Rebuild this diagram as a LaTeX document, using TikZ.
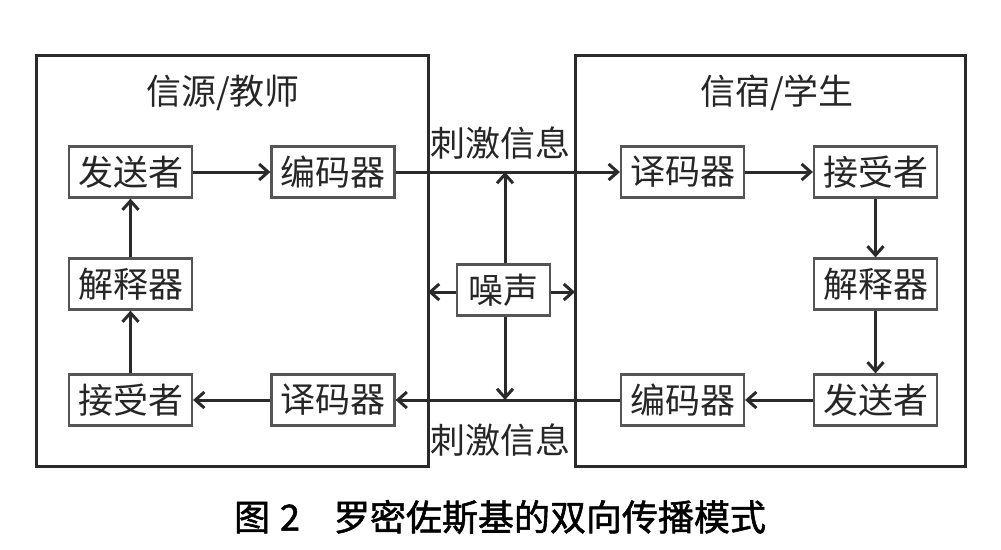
\documentclass[tikz,border=0pt]{standalone}
\usepackage{fontspec}
\newfontfamily\cjk{Noto Sans CJK SC}
\newfontfamily\cjkbold{Noto Sans CJK SC}[FakeBold=1.5]
\usetikzlibrary{arrows.meta}
\definecolor{ln}{HTML}{2A2A2A}
\definecolor{tx}{HTML}{262626}
\tikzset{
  bigbox/.style={draw=ln, line width=3pt},
  nbox/.style={draw=ln!80, line width=2.2pt, minimum width=123pt, minimum height=51pt, inner sep=0pt, font=\cjk\fontsize{35}{40}\selectfont, text=tx},
  lbl/.style={inner sep=0pt, font=\cjk\fontsize{35}{40}\selectfont, text=tx},
  arr/.style={draw=ln, line width=3pt, -{Straight Barb[length=9pt,width=16pt]}}
}
\begin{document}
\begin{tikzpicture}[x=1pt,y=-1pt]
\useasboundingbox (0,0) rectangle (1001,549);
% big boxes
\draw[bigbox] (36,55) rectangle (428,466);
\draw[bigbox] (575,55) rectangle (965,466);
% titles
\node[lbl] (tl) at (223,93) {信源/教师};
\node[lbl] (tr) at (777,93) {信宿/学生};
\node[lbl] (st) at (500,143) {刺激信息};
\node[lbl] (sb) at (500,440) {刺激信息};
% left nodes
\node[nbox] (ls) at (130.5,172) {发送者};
\node[nbox] (le) at (333,172) {编码器};
\node[nbox] (li) at (130.5,284) {解释器};
\node[nbox] (lr) at (130.5,400) {接受者};
\node[nbox] (ld) at (333,400) {译码器};
% right nodes
\node[nbox] (rd) at (682.5,172) {译码器};
\node[nbox] (rr) at (875.5,172) {接受者};
\node[nbox] (ri) at (875.5,284) {解释器};
\node[nbox] (rs) at (875.5,400) {发送者};
\node[nbox] (re) at (682.5,400) {编码器};
% noise
\node[nbox, minimum width=93pt] (n) at (503.5,290) {噪声};
\coordinate (nt) at (505,172);
\coordinate (nb) at (505,400);
\coordinate (nl) at (428,292);
\coordinate (nr) at (575,292);
% connectors
\draw[arr] (ls) -- (le);
\draw[arr] (le.east) -- (rd.west);
\draw[arr] (rd) -- (rr);
\draw[arr] (rr) -- (ri);
\draw[arr] (ri) -- (rs);
\draw[arr] (rs) -- (re);
\draw[arr] (re.west) -- (ld.east);
\draw[arr] (ld) -- (lr);
\draw[arr] (lr) -- (li);
\draw[arr] (li) -- (ls);
\draw[arr] (n.north -| nt) -- (nt);
\draw[arr] (n.south -| nb) -- (nb);
\draw[arr] (n.west |- nl) -- (nl);
\draw[arr] (n.east |- nr) -- (nr);
% caption
\node[inner sep=0pt, font=\cjkbold\fontsize{36}{40}\selectfont, text=black] (cap) at (500,517) {图\hspace{10pt}2\hspace{34pt}罗密佐斯基的双向传播模式};
\end{tikzpicture}
\end{document}
